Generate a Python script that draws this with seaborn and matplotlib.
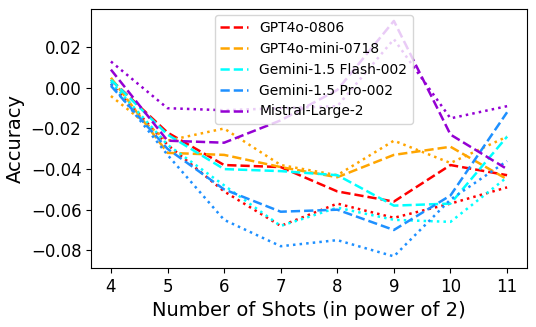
import pandas as pd
import seaborn as sns
import matplotlib.pyplot as plt

# Données
shots = [4, 5, 6, 7, 8, 9, 10, 11]
models = ["GPT4o-0806", "GPT4o-mini-0718", "Gemini-1.5 Flash-002",
          "Gemini-1.5 Pro-002", "Mistral-Large-2"]
colors = ["red", "orange", "cyan", "dodgerblue", "darkviolet"]

# courbes en tirets (dans la légende)
gpt4o_dash = [0.004, -0.022, -0.038, -0.039, -0.051, -0.056, -0.038, -0.043]
mini_dash = [0.005, -0.032, -0.033, -0.039, -0.044, -0.033, -0.029, -0.045]
flash_dash = [0.004, -0.023, -0.040, -0.041, -0.043, -0.058, -0.057, -0.024]
pro_dash = [0.001, -0.030, -0.050, -0.061, -0.060, -0.070, -0.053, -0.012]
mistral_dash = [0.009, -0.026, -0.027, -0.016, -0.001, 0.033, -0.023, -0.040]

# courbes en pointillés
gpt4o_dot = [0.002, -0.028, -0.051, -0.068, -0.057, -0.064, -0.057, -0.049]
mini_dot = [-0.004, -0.026, -0.020, -0.038, -0.043, -0.026, -0.037, -0.024]
flash_dot = [0.003, -0.028, -0.048, -0.068, -0.059, -0.065, -0.066, -0.044]
pro_dot = [0.002, -0.033, -0.065, -0.078, -0.075, -0.083, -0.055, -0.036]
mistral_dot = [0.013, -0.010, -0.011, -0.010, -0.009, 0.024, -0.015, -0.009]

dash_series = [gpt4o_dash, mini_dash, flash_dash, pro_dash, mistral_dash]
dot_series = [gpt4o_dot, mini_dot, flash_dot, pro_dot, mistral_dot]

fig = plt.figure(figsize=(5.36, 3.27), dpi=100)
ax = fig.add_axes([0.170, 0.180, 0.813, 0.792])

for name, c, dash, dot in zip(models, colors, dash_series, dot_series):
    df = pd.DataFrame({"shots": shots, "dash": dash, "dot": dot})
    sns.lineplot(x="shots", y="dash", data=df, color=c, linestyle="--",
                 linewidth=1.8, label=name, ax=ax)
    sns.lineplot(x="shots", y="dot", data=df, color=c, linestyle=":",
                 linewidth=1.8, ax=ax)

ax.set_xlabel("Number of Shots (in power of 2)", fontsize=14)
ax.set_ylabel("Accuracy", fontsize=14)
ax.set_xticks(shots)
ax.tick_params(labelsize=12)
ax.legend(loc="upper left", bbox_to_anchor=(0.284, 0.977), borderaxespad=0,
          fontsize=10)

plt.savefig("out.png", dpi=100)
